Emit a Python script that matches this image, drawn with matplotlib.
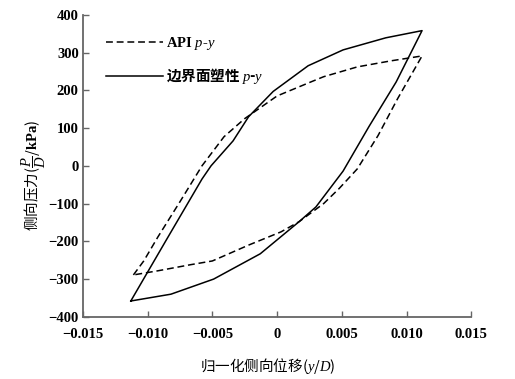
import matplotlib
matplotlib.use('Agg')
import matplotlib.pyplot as plt

plt.rcParams['font.family'] = ['Liberation Serif', 'Noto Sans CJK SC']
plt.rcParams['mathtext.fontset'] = 'custom'
plt.rcParams['mathtext.rm'] = 'Liberation Serif'
plt.rcParams['mathtext.it'] = 'Liberation Serif:italic'
plt.rcParams['mathtext.bf'] = 'Liberation Serif:bold'

CJK = ['Noto Sans CJK SC', 'Liberation Serif']

# ---------- 数据 ----------
# API p-y 曲线：加载段 / 卸载段
api_up_x = [-0.0111, -0.0103, -0.0092, -0.0075, -0.0058, -0.0041, -0.0025, 0.0, 0.0026, 0.0036, 0.0062, 0.0088, 0.0112]
api_up_y = [-289, -252, -188, -95, 0, 77, 125, 185, 222, 236, 262, 278, 291]
api_dn_x = [0.0112, 0.0093, 0.0078, 0.0062, 0.0048, 0.0036, 0.0017, 0.0003, -0.0022, -0.0050, -0.0067, -0.0092, -0.0111]
api_dn_y = [291, 177, 80, -8, -60, -100, -148, -175, -210, -252, -262, -278, -289]

# 边界面塑性 p-y 曲线
bs_up_x = [-0.0113, -0.0085, -0.0058, -0.0051, -0.0034, -0.0022, -0.0003, 0.0024, 0.0051, 0.0084, 0.0112]
bs_up_y = [-358, -193, -35, 0, 66, 130, 197, 265, 307, 339, 358]
bs_dn_x = [0.0112, 0.0092, 0.0071, 0.0051, 0.0030, 0.0017, -0.0013, -0.0049, -0.0082, -0.0113]
bs_dn_y = [358, 222, 104, -14, -109, -148, -233, -300, -340, -358]

xticks = [-0.015, -0.010, -0.005, 0, 0.005, 0.010, 0.015]
xtick_labels = ['\u22120.015', '\u22120.010', '\u22120.005', '0', '0.005', '0.010', '0.015']
yticks = [-400, -300, -200, -100, 0, 100, 200, 300, 400]
ytick_labels = ['\u2212400', '\u2212300', '\u2212200', '\u2212100', '0', '100', '200', '300', '400']

fig = plt.figure(figsize=(5.15, 3.79), dpi=100)
ax = fig.add_axes([0.161, 0.164, 0.754, 0.797])

ax.plot(api_up_x + api_dn_x, api_up_y + api_dn_y, color='black', lw=1.1,
        linestyle=(0, (4.5, 2.5)), label='API $p$-$y$')
ax.plot(bs_up_x + bs_dn_x, bs_up_y + bs_dn_y, color='black', lw=1.1,
        label='边界面塑性 $p$-$y$')

ax.set_xlim(-0.015, 0.015)
ax.set_ylim(-400, 400)
ax.set_xticks(xticks)
ax.set_xticklabels(xtick_labels)
ax.set_yticks(yticks)
ax.set_yticklabels(ytick_labels)

for s in ['top', 'right']:
    ax.spines[s].set_visible(False)
for s in ['left', 'bottom']:
    ax.spines[s].set_color('#666666')
    ax.spines[s].set_linewidth(1.3)
ax.tick_params(direction='in', length=4, width=1.0, color='#666666',
               labelsize=10.5)
ax.tick_params(axis='x', pad=8)
ax.tick_params(axis='y', pad=3)
for lab in ax.get_xticklabels() + ax.get_yticklabels():
    lab.set_fontweight('bold')

ax.set_xlabel('归一化侧向位移($y$/$D$)', fontsize=10.5, family=CJK)
ax.xaxis.set_label_coords(0.477, -0.13)
ax.set_ylabel(r'侧向压力($\dfrac{P}{D}$/$\mathbf{kPa}$)', fontsize=10.5,
              family=CJK)
ax.yaxis.set_label_coords(-0.09, 0.47)

leg = ax.legend(loc='upper left', bbox_to_anchor=(0.025, 0.975), frameon=False,
                handlelength=3.9, handletextpad=0.2, labelspacing=0.95,
                prop={'size': 10.5, 'weight': 'bold'})
leg.get_texts()[1].set_family(CJK)

fig.savefig('out.png', dpi=100)
